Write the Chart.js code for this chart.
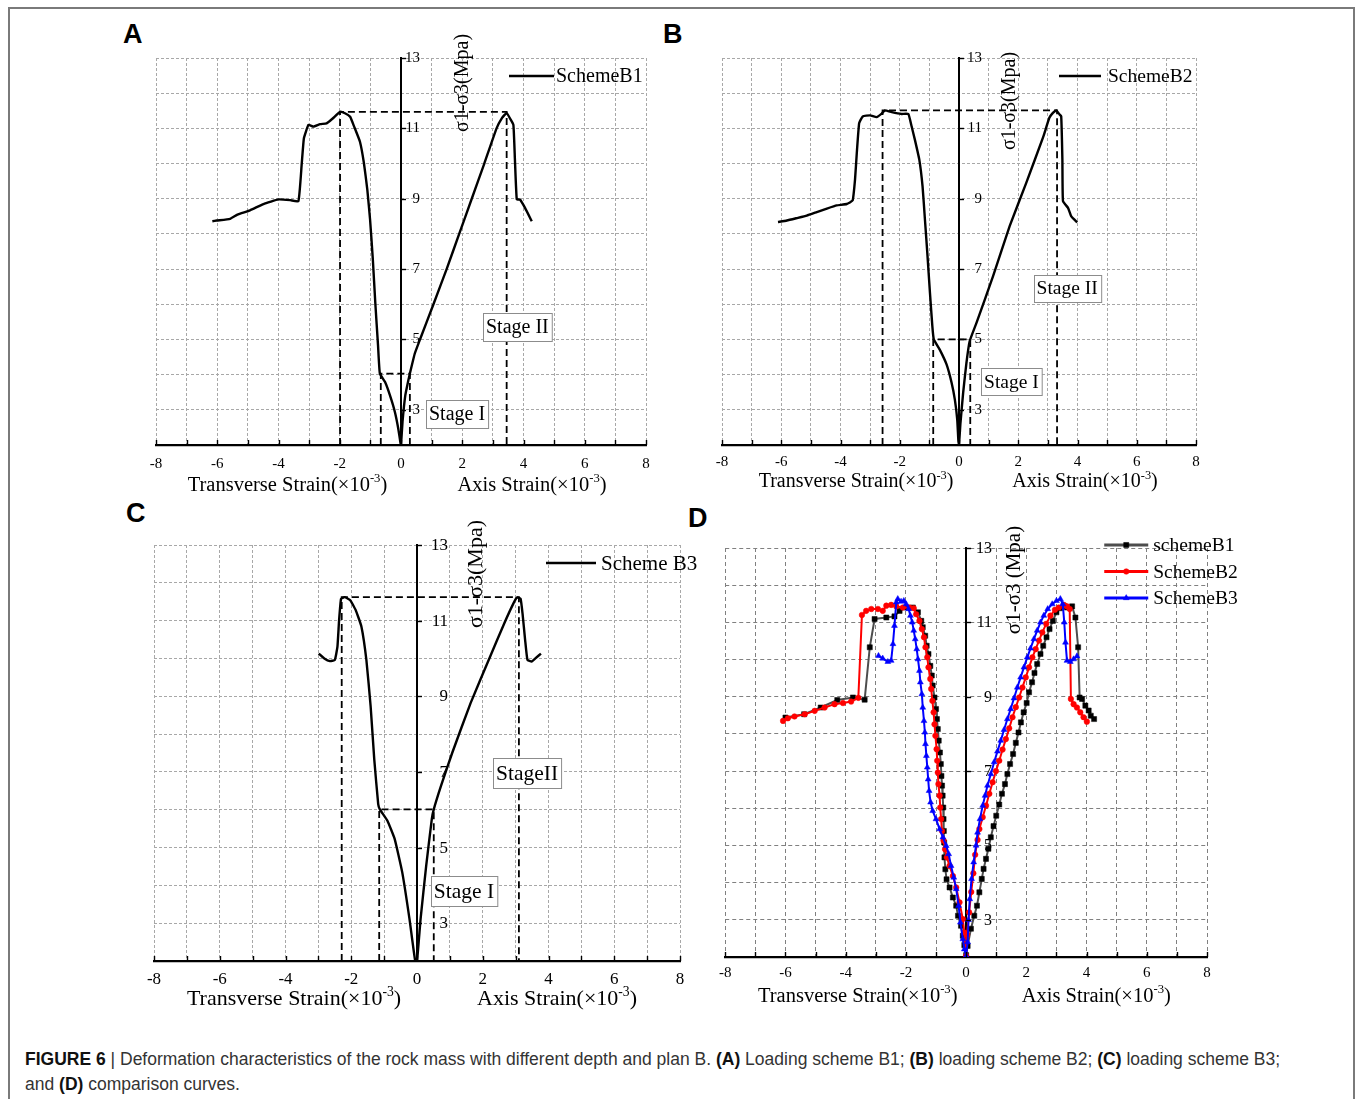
<!DOCTYPE html>
<html><head><meta charset="utf-8">
<script src="https://cdn.jsdelivr.net/npm/chart.js@4.4.0/dist/chart.umd.min.js"></script>
<style>
html,body{margin:0;padding:0;background:#fff}
body{width:1355px;height:1099px;position:relative;overflow:hidden;font-family:"Liberation Sans",Arial,sans-serif}
.frame{position:absolute;left:8px;top:7px;width:1343px;height:1200px;border:2px solid #7a7a7a;border-bottom:none}
.cv{position:absolute}
.letter{position:absolute;font:bold 27px/27px "Liberation Sans",Arial,sans-serif;color:#000}
.cap{position:absolute;left:25px;top:1047px;font-size:17.5px;line-height:25px;color:#333;white-space:nowrap}
.cap b{color:#111}
</style></head><body>
<div class="frame"></div>
<div class="letter" style="left:123px;top:21px">A</div>
<div class="letter" style="left:663px;top:21px">B</div>
<div class="letter" style="left:126px;top:500px">C</div>
<div class="letter" style="left:688px;top:505px">D</div>
<canvas id="cA" class="cv" width="550" height="490" style="left:115px;top:15px"></canvas>
<canvas id="cB" class="cv" width="560" height="490" style="left:670px;top:15px"></canvas>
<canvas id="cC" class="cv" width="600" height="530" style="left:110px;top:500px"></canvas>
<canvas id="cD" class="cv" width="548" height="530" style="left:712px;top:500px"></canvas>
<div class="cap"><b>FIGURE 6</b> | Deformation characteristics of the rock mass with different depth and plan B. <b>(A)</b> Loading scheme B1; <b>(B)</b> loading scheme B2; <b>(C)</b> loading scheme B3;<br>and <b>(D)</b> comparison curves.</div>
<script>
// ---------- tick labels ----------
const X_TICK_LABELS = [-8, -6, -4, -2, 0, 2, 4, 6, 8];
const Y_TICK_LABELS = [3, 5, 7, 9, 11, 13];

// ---------- Panel A : Scheme B1 ----------
const aStrain = [-6.16,-6.02,-5.58,-5.34,-4.93,-4.49,-4.00,-3.62,-3.35,-3.24,-3.17,-3.02,-2.86,-2.64,-2.43,-2.23,-1.99,-1.83,-1.66,-1.53,-1.34,-1.21,-1.10,-1.01,-0.92,-0.84,-0.75,-0.69,-0.52,-0.36,-0.20,-0.09,-0.01,0.00,0.05,0.14,0.24,0.29,0.45,0.62,1.06,1.49,1.90,2.31,2.72,3.12,3.30,3.45,3.56,3.67,3.72,3.78,3.88,4.05,4.27];
const aStress = [8.36,8.38,8.43,8.55,8.67,8.85,8.98,8.96,8.93,10.01,10.72,11.10,11.05,11.12,11.14,11.28,11.47,11.43,11.33,11.05,10.62,10.01,9.26,8.41,7.28,6.05,4.83,4.03,3.79,3.41,2.94,2.47,2.02,2.00,2.66,3.41,3.84,4.03,4.60,5.00,6.00,7.00,8.00,9.00,10.00,11.00,11.30,11.44,11.28,11.10,10.11,8.98,8.98,8.74,8.36];
const aPeakGuideX = [-1.99,-1.99,3.45,3.45];
const aPeakGuideY = [2,11.47,11.47,2];
const aStageGuideX = [-0.66,-0.66,0.29,0.29];
const aStageGuideY = [2,4.03,4.03,2];

// ---------- Panel B : Scheme B2 ----------
const bStrain = [-6.11,-5.81,-5.47,-5.14,-4.80,-4.46,-4.13,-3.79,-3.59,-3.51,-3.45,-3.37,-3.25,-3.00,-2.78,-2.61,-2.50,-2.27,-1.94,-1.71,-1.60,-1.49,-1.34,-1.23,-1.15,-1.07,-0.98,-0.90,-0.85,-0.65,-0.42,-0.25,-0.14,-0.06,-0.02,0.00,0.05,0.14,0.25,0.36,0.59,1.15,1.71,2.27,2.84,3.05,3.17,3.28,3.40,3.45,3.49,3.51,3.68,3.79,3.99];
const bStress = [8.34,8.38,8.45,8.52,8.62,8.72,8.81,8.85,8.95,9.54,10.30,11.15,11.34,11.37,11.32,11.42,11.51,11.46,11.41,11.41,11.06,10.68,10.11,9.35,8.41,7.46,6.32,5.38,5.00,4.71,4.29,3.77,3.29,2.73,2.11,2.02,2.63,3.48,4.33,4.95,5.47,6.80,8.22,9.45,10.75,11.30,11.44,11.51,11.39,11.34,10.11,8.93,8.74,8.50,8.33];
const bPeakGuideX = [-2.58,-2.58,3.31,3.31];
const bPeakGuideY = [2,11.51,11.51,2];
const bStageGuideX = [-0.87,-0.87,0.38,0.38];
const bStageGuideY = [2,5.00,5.00,2];

// ---------- Panel C : Scheme B3 ----------
const cStrain = [-2.99,-2.82,-2.65,-2.50,-2.42,-2.37,-2.31,-2.20,-2.03,-1.86,-1.69,-1.54,-1.41,-1.30,-1.18,-1.13,-0.90,-0.68,-0.45,-0.23,-0.06,0.00,0.11,0.28,0.45,0.51,0.73,1.07,1.63,2.20,2.65,2.93,3.04,3.15,3.21,3.29,3.36,3.49,3.60,3.77];
const cStress = [10.13,10.00,9.93,9.96,10.31,11.01,11.58,11.62,11.54,11.27,10.84,9.96,8.73,7.33,6.15,6.01,5.71,5.23,4.35,3.12,2.03,2.00,3.12,4.52,5.75,6.01,6.63,7.50,8.82,10.00,10.92,11.45,11.61,11.58,11.19,10.48,9.96,9.92,10.00,10.13];
const cPeakGuideX = [-2.29,-2.29,3.10,3.10];
const cPeakGuideY = [2,11.62,11.62,2];
const cStageGuideX = [-1.15,-1.15,0.51,0.51];
const cStageGuideY = [2,6.01,6.01,2];

// ---------- Panel D : comparison ----------
const d1Strain = [-6.00,-5.38,-4.83,-4.28,-3.76,-3.37,-3.20,-3.04,-2.65,-2.38,-2.21,-1.99,-1.77,-1.60,-1.49,-1.44,-1.36,-1.31,-1.25,-1.19,-1.14,-1.11,-1.05,-1.00,-0.97,-0.94,-0.91,-0.87,-0.84,-0.82,-0.80,-0.78,-0.76,-0.75,-0.74,-0.73,-0.72,-0.69,-0.65,-0.55,-0.44,-0.33,-0.27,-0.17,-0.11,-0.06,0.00,0.05,0.16,0.27,0.36,0.44,0.52,0.58,0.66,0.74,0.82,0.91,1.00,1.10,1.19,1.29,1.37,1.46,1.56,1.65,1.74,1.82,1.91,2.01,2.09,2.19,2.27,2.36,2.47,2.56,2.67,2.77,2.88,3.00,3.12,3.24,3.35,3.52,3.63,3.72,3.77,3.85,3.96,4.07,4.14,4.25];
const d1Stress = [8.44,8.53,8.71,8.91,8.98,8.92,10.33,11.09,11.13,11.16,11.31,11.40,11.40,11.27,11.04,10.87,10.64,10.37,10.15,9.83,9.57,9.30,8.98,8.67,8.40,8.13,7.82,7.50,7.19,6.87,6.61,6.34,6.02,5.71,5.39,5.08,4.68,4.36,4.09,3.87,3.60,3.38,3.11,2.84,2.57,2.32,2.05,2.30,2.76,3.11,3.38,3.74,4.10,4.37,4.64,4.91,5.22,5.52,5.80,6.10,6.39,6.65,6.92,7.19,7.46,7.76,8.04,8.31,8.58,8.83,9.12,9.39,9.64,9.88,10.15,10.37,10.60,10.82,11.04,11.27,11.38,11.45,11.40,11.43,11.13,10.33,8.98,8.94,8.76,8.63,8.49,8.40];
const d2Strain = [-6.08,-5.92,-5.70,-5.36,-5.03,-4.70,-4.37,-4.09,-3.82,-3.58,-3.46,-3.32,-3.15,-2.93,-2.77,-2.65,-2.49,-2.32,-2.10,-1.88,-1.74,-1.66,-1.55,-1.47,-1.40,-1.35,-1.29,-1.25,-1.19,-1.16,-1.12,-1.08,-1.05,-1.02,-0.98,-0.96,-0.94,-0.92,-0.88,-0.86,-0.83,-0.80,-0.75,-0.70,-0.64,-0.55,-0.44,-0.33,-0.22,-0.11,-0.06,0.00,0.03,0.10,0.17,0.24,0.30,0.38,0.44,0.55,0.66,0.77,0.88,0.99,1.10,1.21,1.32,1.43,1.54,1.65,1.76,1.87,1.98,2.09,2.20,2.31,2.42,2.53,2.66,2.80,2.95,3.08,3.24,3.35,3.44,3.48,3.57,3.68,3.79,3.90,4.01];
const d2Stress = [8.35,8.42,8.47,8.53,8.62,8.71,8.80,8.83,8.87,8.97,11.20,11.31,11.36,11.36,11.31,11.45,11.47,11.43,11.40,11.40,11.38,11.22,11.04,10.82,10.60,10.33,10.06,9.79,9.48,9.21,8.89,8.58,8.26,7.95,7.59,7.28,6.96,6.65,6.34,6.02,5.71,5.39,5.13,4.90,4.68,4.45,4.18,3.87,3.47,3.02,2.66,2.03,2.60,3.20,3.75,4.25,4.75,5.15,5.44,5.76,6.07,6.39,6.70,7.00,7.28,7.58,7.86,8.15,8.45,8.72,8.98,9.25,9.52,9.79,10.06,10.28,10.51,10.73,10.96,11.18,11.34,11.40,11.47,11.43,11.36,8.94,8.80,8.71,8.58,8.45,8.33];
const d3Strain = [-2.91,-2.77,-2.60,-2.49,-2.43,-2.38,-2.32,-2.27,-2.16,-2.07,-1.99,-1.91,-1.85,-1.79,-1.74,-1.69,-1.64,-1.60,-1.55,-1.52,-1.47,-1.44,-1.40,-1.37,-1.35,-1.32,-1.29,-1.26,-1.23,-1.18,-1.11,-1.00,-0.88,-0.77,-0.66,-0.58,-0.50,-0.41,-0.33,-0.25,-0.19,-0.11,-0.06,0.00,0.05,0.08,0.12,0.18,0.25,0.33,0.38,0.46,0.55,0.63,0.71,0.82,0.93,1.04,1.15,1.26,1.37,1.48,1.59,1.70,1.81,1.92,2.03,2.14,2.25,2.36,2.47,2.58,2.71,2.86,3.00,3.13,3.21,3.26,3.30,3.35,3.46,3.57,3.68];
const d3Stress = [10.10,10.03,9.94,9.97,10.42,10.91,11.54,11.63,11.56,11.58,11.49,11.36,11.18,11.00,10.78,10.55,10.28,10.01,9.70,9.39,9.07,8.71,8.35,8.04,7.73,7.41,7.10,6.78,6.47,6.16,5.93,5.71,5.44,5.22,4.99,4.77,4.45,4.14,3.83,3.38,2.93,2.48,2.21,2.03,2.40,3.00,3.56,4.10,4.55,5.00,5.35,5.71,6.07,6.34,6.61,6.92,7.24,7.53,7.82,8.11,8.40,8.67,8.96,9.25,9.52,9.79,10.06,10.30,10.55,10.78,11.00,11.18,11.36,11.49,11.58,11.63,11.49,11.00,10.46,9.97,9.94,10.01,10.09];

// ---------- helpers ----------
const SERIF = '"Liberation Serif","Times New Roman",serif';
Chart.defaults.font.family = SERIF;
Chart.defaults.color = '#000';

function pts(xs, ys) { return xs.map((v, i) => ({x: v, y: ys[i]})); }
function curve(label, xs, ys) {
  return {label, data: pts(xs, ys), showLine: true, borderColor: '#000', borderWidth: 2.4,
    pointRadius: 0, tension: 0.12, fill: false, order: 1};
}
function guide(xs, ys) {
  return {label: '', data: pts(xs, ys), showLine: true, borderColor: '#000', borderWidth: 1.8,
    borderDash: [7, 4], pointRadius: 0, tension: 0, fill: false, order: 2};
}
function marked(label, xs, ys, line, fillC, style, r, ord) {
  return {label, data: pts(xs, ys), showLine: true, borderColor: line, borderWidth: 2,
    pointStyle: style, pointRadius: r, pointBackgroundColor: fillC, pointBorderColor: fillC,
    pointBorderWidth: 0.5, tension: 0, fill: false, order: ord};
}

function supTitle(ctx, cx, base, size, main, sup, tail) {
  const ss = size * 0.62;
  ctx.font = size + 'px ' + SERIF; const w1 = ctx.measureText(main).width; const w3 = ctx.measureText(tail).width;
  ctx.font = ss + 'px ' + SERIF; const w2 = ctx.measureText(sup).width;
  let x = cx - (w1 + w2 + w3) / 2;
  ctx.textAlign = 'left'; ctx.textBaseline = 'alphabetic';
  ctx.font = size + 'px ' + SERIF; ctx.fillText(main, x, base); x += w1;
  ctx.font = ss + 'px ' + SERIF; ctx.fillText(sup, x, base - size * 0.42); x += w2;
  ctx.font = size + 'px ' + SERIF; ctx.fillText(tail, x, base);
}

const LOOKS = {};

const decor = {
  id: 'decor',
  afterDatasetsDraw(chart) {
    const L = LOOKS[chart.canvas.id]; if (!L) return;
    const ctx = chart.ctx, ca = chart.chartArea, sx = chart.scales.x, sy = chart.scales.y;
    const x0 = sx.getPixelForValue(0);
    ctx.save();
    ctx.strokeStyle = '#000'; ctx.lineWidth = 1.4; ctx.setLineDash([]);
    sx.ticks.forEach(t => {
      const p = Math.round(sx.getPixelForValue(t.value)) + 0.5;
      ctx.beginPath(); ctx.moveTo(p, ca.bottom); ctx.lineTo(p, ca.bottom - L.tickLen); ctx.stroke();
    });
    ctx.fillStyle = '#000';
    ctx.font = L.yFont + 'px ' + SERIF; ctx.textAlign = 'right'; ctx.textBaseline = 'middle';
    Y_TICK_LABELS.forEach(v => {
      const p = Math.round(sy.getPixelForValue(v)) + 0.5;
      ctx.beginPath(); ctx.moveTo(x0, p); ctx.lineTo(x0 + L.tickLen, p); ctx.stroke();
      ctx.fillText(String(v), x0 + L.yLabelDx, p);
    });
    supTitle(ctx, ca.left + L.xt1, ca.bottom + L.xtBase, L.xtFont, 'Transverse Strain(×10', '-3', ')');
    supTitle(ctx, ca.left + L.xt2, ca.bottom + L.xtBase, L.xtFont, 'Axis Strain(×10', '-3', ')');
    ctx.save();
    ctx.translate(x0 + L.ytDx, ca.top + L.ytDy); ctx.rotate(-Math.PI / 2);
    ctx.font = L.ytFont + 'px ' + SERIF; ctx.textAlign = 'center'; ctx.textBaseline = 'middle';
    ctx.fillText(L.yTitle, 0, 0);
    ctx.restore();
    // legend
    const lg = L.legend;
    lg.items.forEach((idx, k) => {
      const ds = chart.data.datasets[idx];
      const y = ca.top + lg.dy[k];
      ctx.strokeStyle = ds.borderColor; ctx.lineWidth = lg.lw;
      ctx.beginPath(); ctx.moveTo(ca.left + lg.x0, y); ctx.lineTo(ca.left + lg.x1, y); ctx.stroke();
      if (ds.pointRadius) {
        ctx.fillStyle = ds.pointBackgroundColor; ctx.strokeStyle = ds.pointBorderColor; ctx.lineWidth = 0.5;
        const mx = ca.left + (lg.x0 + lg.x1) / 2;
        if (Chart.helpers && Chart.helpers.drawPoint) {
          Chart.helpers.drawPoint(ctx, {pointStyle: ds.pointStyle, radius: ds.pointRadius, rotation: 0, borderWidth: 0.5}, mx, y);
        }
      }
      ctx.fillStyle = '#000'; ctx.font = lg.font + 'px ' + SERIF; ctx.textAlign = 'left'; ctx.textBaseline = 'middle';
      ctx.fillText(ds.label, ca.left + lg.tx, y + 1);
    });
    // stage boxes
    (L.stages || []).forEach(s => {
      const px = sx.getPixelForValue(s.x), py = sy.getPixelForValue(s.y);
      ctx.font = L.stageFont + 'px ' + SERIF;
      const w = ctx.measureText(s.text).width + 6, h = Math.round(L.stageFont * 1.38);
      const bx = Math.round(px - w / 2) + 0.5, by = Math.round(py - h / 2) + 0.5;
      ctx.fillStyle = '#fff'; ctx.fillRect(bx, by, w, h);
      ctx.strokeStyle = '#8c8c8c'; ctx.lineWidth = 1; ctx.strokeRect(bx, by, w, h);
      ctx.fillStyle = '#000'; ctx.textAlign = 'center'; ctx.textBaseline = 'middle';
      ctx.fillText(s.text, px, py + 1);
    });
    ctx.restore();
  }
};

function makePanel(id, datasets, L) {
  LOOKS[id] = L;
  return new Chart(document.getElementById(id), {
    type: 'scatter',
    data: {datasets},
    options: {
      responsive: false, animation: false, events: [], devicePixelRatio: 1,
      layout: {padding: L.pad},
      plugins: {legend: {display: false}, tooltip: {enabled: false}},
      scales: {
        x: {type: 'linear', position: 'bottom', min: -8, max: 8,
          ticks: {stepSize: 1, autoSkip: false, maxRotation: 0, padding: L.xPad, color: '#000',
            font: {size: L.tickFont, family: SERIF},
            callback: v => X_TICK_LABELS.includes(v) ? String(v) : ''},
          grid: {color: L.gridColor, lineWidth: 1, drawTicks: false},
          border: {display: true, color: '#000', width: 2.2, dash: L.gridDash},
          afterFit: s => { s.height = 30; }},
        y: {type: 'linear', position: {x: 0}, min: 2, max: 13,
          ticks: {stepSize: 1, display: false},
          grid: {color: L.gridColor, lineWidth: 1, drawTicks: false},
          border: {display: true, color: '#000', width: 2, dash: L.gridDash},
          afterFit: s => { s.width = 0; }}
      }
    },
    plugins: [decor]
  });
}

const LIGHT = '#a8a8a8', DARK = '#808080';

makePanel('cA', [curve('SchemeB1', aStrain, aStress), guide(aPeakGuideX, aPeakGuideY), guide(aStageGuideX, aStageGuideY)], {
  pad: {left: 41, top: 43, right: 19, bottom: 30}, xPad: 10, tickFont: 15, yFont: 15, yLabelDx: 19, tickLen: 5,
  gridColor: LIGHT, gridDash: [3, 2],
  xtFont: 20.5, xtBase: 46, xt1: 131.5, xt2: 376,
  yTitle: 'σ1-σ3(Mpa)', ytFont: 20, ytDx: 62, ytDy: 25,
  legend: {items: [0], x0: 353, x1: 398, dy: [18], tx: 400, font: 20, lw: 2.4},
  stageFont: 20, stages: [{text: 'Stage II', x: 3.80, y: 5.36}, {text: 'Stage I', x: 1.83, y: 2.89}]
});

makePanel('cB', [curve('SchemeB2', bStrain, bStress), guide(bPeakGuideX, bPeakGuideY), guide(bStageGuideX, bStageGuideY)], {
  pad: {left: 52, top: 43, right: 34, bottom: 30}, xPad: 8, tickFont: 15, yFont: 15, yLabelDx: 23, tickLen: 5,
  gridColor: LIGHT, gridDash: [3, 2],
  xtFont: 20, xtBase: 42, xt1: 134, xt2: 363,
  yTitle: 'σ1-σ3(Mpa)', ytFont: 20, ytDx: 51, ytDy: 43,
  legend: {items: [0], x0: 337, x1: 379, dy: [18], tx: 386, font: 19.5, lw: 2.4},
  stageFont: 19.5, stages: [{text: 'Stage II', x: 3.65, y: 6.46}, {text: 'Stage I', x: 1.77, y: 3.80}]
});

makePanel('cC', [curve('Scheme B3', cStrain, cStress), guide(cPeakGuideX, cPeakGuideY), guide(cStageGuideX, cStageGuideY)], {
  pad: {left: 44, top: 45, right: 30, bottom: 39}, xPad: 8, tickFont: 17, yFont: 17, yLabelDx: 31, tickLen: 5,
  gridColor: LIGHT, gridDash: [3, 2],
  xtFont: 22, xtBase: 44, xt1: 140, xt2: 403,
  yTitle: 'σ1-σ3(Mpa)', ytFont: 22, ytDx: 59, ytDy: 29,
  legend: {items: [0], x0: 392, x1: 442, dy: [18], tx: 447, font: 21, lw: 2.6},
  stageFont: 21.5, stages: [{text: 'StageII', x: 3.35, y: 6.96}, {text: 'Stage I', x: 1.43, y: 3.85}]
});

makePanel('cD', [
  marked('schemeB1', d1Strain, d1Stress, '#4d4d4d', '#000', 'rect', 3.6, 3),
  marked('SchemeB2', d2Strain, d2Stress, '#ff0000', '#ff0000', 'circle', 2.8, 2),
  marked('SchemeB3', d3Strain, d3Stress, '#0000ff', '#0000ff', 'triangle', 3.4, 1)
], {
  pad: {left: 11, top: 48, right: 53, bottom: 43}, xPad: 7, tickFont: 15, yFont: 16, yLabelDx: 26, tickLen: 5,
  gridColor: DARK, gridDash: [4, 3],
  xtFont: 20.5, xtBase: 45, xt1: 132.5, xt2: 371,
  yTitle: 'σ1-σ3 (Mpa)', ytFont: 21, ytDx: 48, ytDy: 32,
  legend: {items: [0, 1, 2], x0: 379, x1: 423, dy: [-3, 23.5, 50], tx: 428, font: 19.5, lw: 3},
  stageFont: 20, stages: []
});
</script>
</body></html>
